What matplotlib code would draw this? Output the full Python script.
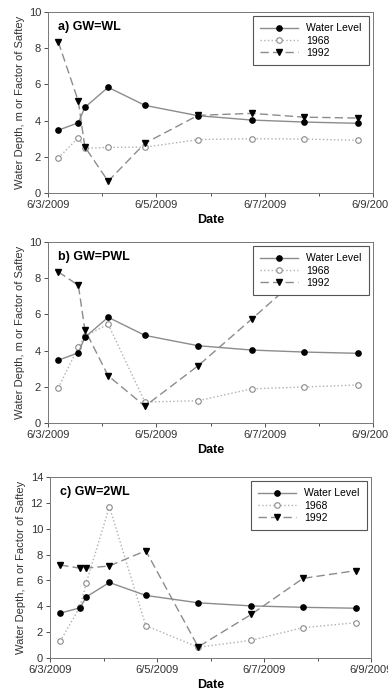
import datetime as dt

import matplotlib
matplotlib.use("Agg")
import matplotlib.pyplot as plt
import matplotlib.dates as mdates

plt.rcParams["font.family"] = ["Liberation Sans", "DejaVu Sans"]

START = dt.datetime(2009, 6, 3)
# sample times, days after 6/3/2009 00:00
DAYS = [0.19, 0.56, 0.68, 1.11, 1.79, 2.77, 3.76, 4.73, 5.72]

WATER_LEVEL = [3.47, 3.88, 4.73, 5.84, 4.84, 4.27, 4.03, 3.92, 3.85]

PANELS = ["a) GW=WL", "b) GW=PWL", "c) GW=2WL"]
Y_MAX = [10, 10, 14]

FS_1968 = [
    [1.93, 3.06, 2.47, 2.52, 2.53, 2.95, 3.0, 2.98, 2.91],
    [1.94, 4.19, 4.79, 5.46, 1.16, 1.23, 1.89, 1.99, 2.1],
    [1.29, 3.96, 5.83, 11.7, 2.5, 0.83, 1.37, 2.35, 2.73],
]
FS_1992 = [
    [8.35, 5.07, 2.55, 0.65, 2.75, 4.29, 4.4, 4.19, 4.14],
    [8.35, 7.61, 5.16, 2.61, 0.93, 3.16, 5.74, 8.3, 9.0],
    [7.19, 6.95, 6.95, 7.12, 8.3, 0.86, 3.37, 6.16, 6.76],
]

# axes rectangles in pixels: left, top, right, bottom
BOXES = [(48, 12, 373, 193), (48, 242, 373, 423), (50, 477, 371, 658)]

W, H = 388, 691
fig = plt.figure(figsize=(W / 100, H / 100), dpi=100)

x = [START + dt.timedelta(days=d) for d in DAYS]
grey = "#8c8c8c"
fmt = matplotlib.ticker.FuncFormatter(
    lambda v, p: "{d.month}/{d.day}/{d.year}".format(d=mdates.num2date(v)))

for i, (l, t, r, b) in enumerate(BOXES):
    ax = fig.add_axes([l / W, 1 - b / H, (r - l) / W, (b - t) / H])
    ax.plot(x, WATER_LEVEL, "-", color=grey, lw=1.0, marker="o", ms=3.8,
            mfc="black", mec="black", label="Water Level", zorder=3)
    ax.plot(x, FS_1968[i], ":", color="#b0b0b0", lw=1.0, marker="o", ms=4.0,
            mfc="white", mec="#8a8a8a", mew=0.8, label="1968", zorder=2)
    ax.plot(x, FS_1992[i], "--", color=grey, lw=1.0, dashes=(6, 3), marker="v",
            ms=3.8, mfc="black", mec="black", label="1992", zorder=2)

    ax.set_xlim(START, START + dt.timedelta(days=6))
    ax.set_ylim(0, Y_MAX[i])
    ax.set_yticks(range(0, Y_MAX[i] + 1, 2))
    ax.xaxis.set_major_locator(mdates.DayLocator(interval=2))
    ax.xaxis.set_minor_locator(mdates.DayLocator())
    ax.xaxis.set_major_formatter(fmt)
    ax.tick_params(which="both", direction="out", labelsize=8, colors="#333333",
                   length=3, width=0.6, pad=2)
    ax.tick_params(which="minor", length=2)
    for s in ax.spines.values():
        s.set_color("#777777")
        s.set_linewidth(0.7)

    ax.set_xlabel("Date", fontsize=9, fontweight="bold", labelpad=3)
    ax.set_ylabel("Water Depth, m or Factor of Saftey", fontsize=8, color="#333333",
                  labelpad=3)
    ax.text(0.03, 0.95, PANELS[i], transform=ax.transAxes, fontsize=9,
            fontweight="bold", va="top", ha="left")

    leg = ax.legend(loc="upper right", fontsize=7.5, frameon=True, fancybox=False,
                    edgecolor="#555555", framealpha=1, borderpad=0.7,
                    handlelength=3.6, labelspacing=0.2, borderaxespad=0.4)
    leg.get_frame().set_linewidth(0.8)
    leg.set_zorder(5)

fig.savefig("out.png", dpi=100)
